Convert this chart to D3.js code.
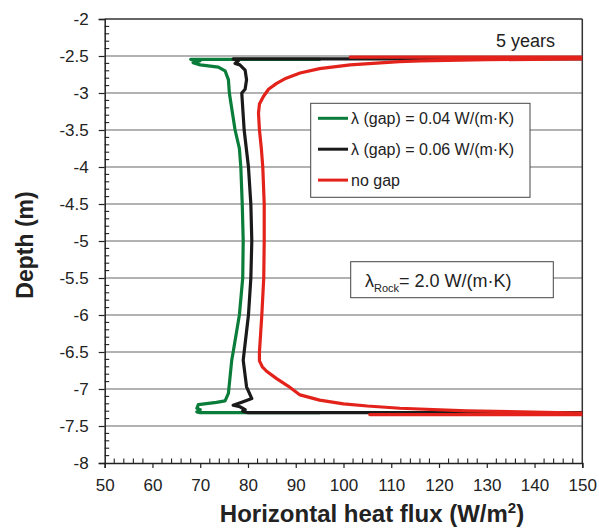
<!DOCTYPE html>
<html><head><meta charset="utf-8">
<script src="https://cdn.jsdelivr.net/npm/d3@7/dist/d3.min.js"></script>
<style>body{margin:0;background:#fff;} svg{display:block;} text{font-family:Arial,"Liberation Sans",sans-serif;}</style>
</head><body><svg id="c" width="599" height="531"></svg>
<script>
// ---- data ----
const xTicks = [50,60,70,80,90,100,110,120,130,140,150];
const yTicks = [-2,-2.5,-3,-3.5,-4,-4.5,-5,-5.5,-6,-6.5,-7,-7.5,-8];
const seriesNames = ["λ (gap) = 0.04 W/(m·K)", "λ (gap) = 0.06 W/(m·K)", "no gap"];
const seriesColors = ["#0b7d3a", "#1a1a1a", "#e3231b"];

const greenFlux  = [95,68,70,68.5,70,73.8,75.2,75.9,76.1,77.3,78.2,78.5,78.8,79.0,78.9,78.2,76.9,76.6,75.9,75.2,73.4,69.6,69.3,70,69.3,70,95];
const greenDepth = [-2.545,-2.545,-2.565,-2.59,-2.62,-2.65,-2.7,-2.82,-3.0,-3.5,-3.75,-4.0,-4.5,-5.0,-5.5,-6.0,-6.5,-6.61,-7.06,-7.16,-7.18,-7.21,-7.26,-7.28,-7.31,-7.32,-7.32];

const blackFlux  = [175,76.9,78.0,77.3,78.3,79.4,79.7,79.4,78.7,79.2,80.1,80.6,80.8,80.6,80.1,79.2,79.0,79.7,80.8,78.7,76.9,78.3,79.4,78.9,80,175];
const blackDepth = [-2.54,-2.54,-2.565,-2.6,-2.62,-2.69,-2.82,-2.95,-3.0,-3.5,-4.0,-4.5,-5.0,-5.5,-6.0,-6.5,-6.61,-6.97,-7.13,-7.18,-7.22,-7.24,-7.28,-7.3,-7.32,-7.32];

const redFlux  = [101.4,175,175,150,130,116,111.7,101.4,95,90.9,88,86,84.3,83.2,82.4,82.2,82.4,82.8,83.1,83.4,83.4,83.3,82.9,82.4,82.4,83.0,83.9,86,88.4,90.9,95,100,105,111.8,125.8,150,175,175,105.5];
const redDepth = [-2.515,-2.515,-2.53,-2.54,-2.55,-2.565,-2.577,-2.62,-2.67,-2.73,-2.8,-2.87,-2.95,-3.05,-3.15,-3.27,-3.5,-3.75,-4.0,-4.5,-5.0,-5.5,-6.0,-6.5,-6.62,-6.7,-6.76,-6.86,-6.96,-7.08,-7.15,-7.2,-7.23,-7.26,-7.295,-7.325,-7.33,-7.345,-7.345];

// ---- chart ----
const svg = d3.select("#c");
const L = 104.7, R = 582.3, T = 19, B = 463;
const x = d3.scaleLinear().domain([50,150]).range([L,R]);
const y = d3.scaleLinear().domain([-2,-8]).range([T,B]);
const FF = "Arial, 'Liberation Sans', sans-serif";

svg.append("defs").append("clipPath").attr("id","clip")
  .append("rect").attr("x",L).attr("y",T).attr("width",R-L).attr("height",B-T);

// gridlines
svg.append("g").selectAll("line").data(yTicks.slice(1,-1)).join("line")
  .attr("x1",L).attr("x2",R).attr("y1",d=>y(d)).attr("y2",d=>y(d))
  .attr("stroke","#666").attr("stroke-width",1.2);

// frame top/right
svg.append("line").attr("x1",L).attr("x2",R).attr("y1",T).attr("y2",T).attr("stroke","#333").attr("stroke-width",1.5);
svg.append("line").attr("x1",R).attr("x2",R).attr("y1",T).attr("y2",B).attr("stroke","#333").attr("stroke-width",1.5);

const fontTick = "17px";
// y axis
const yAx = svg.append("g").attr("transform",`translate(${L},0)`)
  .call(d3.axisLeft(y).tickValues(yTicks).tickSize(6).tickPadding(10).tickFormat(d=>String(d)));
yAx.select(".domain").attr("stroke","#222").attr("stroke-width",1.5);
yAx.selectAll(".tick line").attr("stroke","#222").attr("stroke-width",1.2);
yAx.selectAll("text").attr("font-size",fontTick).attr("fill","#222").attr("font-family",FF);
const yMinor = d3.range(-2,-8.001,-0.1).map(v=>+v.toFixed(1)).filter(v=>Math.abs(v*2-Math.round(v*2))>1e-6);
svg.append("g").selectAll("line").data(yMinor).join("line")
  .attr("x1",L).attr("x2",L+4.5).attr("y1",d=>y(d)).attr("y2",d=>y(d)).attr("stroke","#222").attr("stroke-width",1.1);

// x axis
const xAx = svg.append("g").attr("transform",`translate(0,${B})`)
  .call(d3.axisBottom(x).tickValues(xTicks).tickSize(5).tickPadding(11));
xAx.select(".domain").attr("stroke","#222").attr("stroke-width",1.5);
xAx.selectAll(".tick line").attr("stroke","#222").attr("stroke-width",1.2);
xAx.selectAll("text").attr("font-size",fontTick).attr("fill","#222").attr("font-family",FF);
const xMinor = d3.range(52,150,2).filter(v=>v%10!==0);
svg.append("g").selectAll("line").data(xMinor).join("line")
  .attr("x1",d=>x(d)).attr("x2",d=>x(d)).attr("y1",B).attr("y2",B-4.5).attr("stroke","#222").attr("stroke-width",1.1);

// curves
const line = d3.line().x(d=>x(d[0])).y(d=>y(d[1]));
const series = [
  d3.zip(greenFlux, greenDepth),
  d3.zip(blackFlux, blackDepth),
  d3.zip(redFlux, redDepth)
];
const gC = svg.append("g").attr("clip-path","url(#clip)");
series.forEach((s,i)=>{
  gC.append("path").attr("d",line(s)).attr("fill","none")
    .attr("stroke",seriesColors[i]).attr("stroke-width",3.2)
    .attr("stroke-linejoin","round").attr("stroke-linecap","round");
});

// legend
const lg = svg.append("g");
lg.append("rect").attr("x",310.7).attr("y",103.3).attr("width",219.3).attr("height",94)
  .attr("fill","#fff").attr("stroke","#444").attr("stroke-width",1);
seriesNames.forEach((n,i)=>{
  const yy = 118.3 + i*30.9;
  lg.append("line").attr("x1",318).attr("x2",348).attr("y1",yy).attr("y2",yy)
    .attr("stroke",seriesColors[i]).attr("stroke-width",3);
  lg.append("text").attr("x",351).attr("y",yy+5.5).attr("font-size","16px").attr("fill","#222").text(n);
});

// rock box
svg.append("rect").attr("x",350.7).attr("y",261.7).attr("width",202.6).attr("height",36)
  .attr("fill","#fff").attr("stroke","#444").attr("stroke-width",1);
const rt = svg.append("text").attr("x",365).attr("y",287).attr("font-size","18px").attr("fill","#222");
rt.append("tspan").text("λ");
rt.append("tspan").attr("font-size","11px").attr("dy",5).text("Rock");
rt.append("tspan").attr("dy",-5).text("= 2.0 W/(m·K)");

// 5 years
svg.append("text").attr("x",555).attr("y",47).attr("text-anchor","end").attr("font-size","18px").attr("fill","#222").text("5 years");

// axis titles
svg.append("text").attr("x",372).attr("y",522).attr("text-anchor","middle").attr("font-size","24px")
  .attr("font-weight","bold").attr("fill","#222").html("Horizontal heat flux (W/m<tspan font-size='15px' dy='-9'>2</tspan><tspan dy='9'>)</tspan>");
svg.append("text").attr("transform","translate(33,245) rotate(-90)").attr("text-anchor","middle")
  .attr("font-size","23px").attr("font-weight","bold").attr("fill","#222").text("Depth (m)");
</script></body></html>
